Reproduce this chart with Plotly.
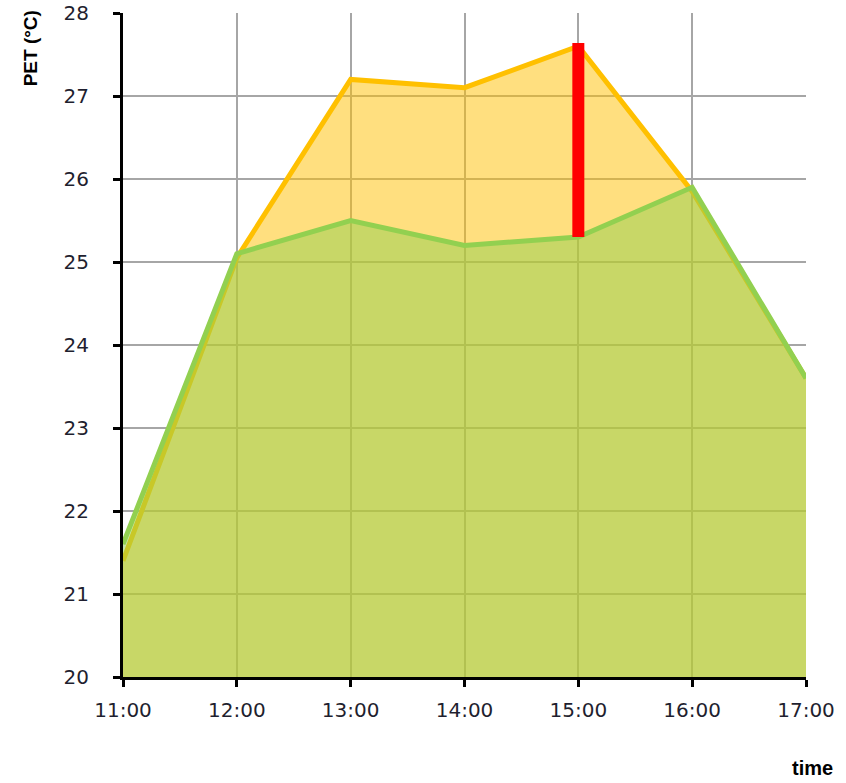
import plotly.graph_objects as go

hours = [11, 12, 13, 14, 15, 16, 17]
tick_labels = ["11:00", "12:00", "13:00", "14:00", "15:00", "16:00", "17:00"]
pet_orange = [21.4, 25.05, 27.2, 27.1, 27.6, 25.85, 23.6]
pet_green = [21.6, 25.1, 25.5, 25.2, 25.3, 25.9, 23.6]
bar_time = [15, 15]
bar_range = [25.3, 27.64]
y_ticks = [20, 21, 22, 23, 24, 25, 26, 27, 28]

fig = go.Figure()
fig.add_trace(go.Scatter(x=hours, y=pet_orange, mode="lines", fill="tozeroy",
                         fillcolor="rgba(255,192,0,0.5)",
                         line=dict(color="#FFC000", width=5), showlegend=False))
fig.add_trace(go.Scatter(x=hours, y=pet_green, mode="lines", fill="tozeroy",
                         fillcolor="rgba(146,208,80,0.5)",
                         line=dict(color="#92D050", width=5), showlegend=False))
fig.add_trace(go.Scatter(x=bar_time, y=bar_range, mode="lines",
                         line=dict(color="#FF0000", width=12), showlegend=False))

tick_font = "DejaVu Sans, Verdana, sans-serif"
title_font = "Liberation Sans, Arial, sans-serif"
fig.update_layout(
    width=846, height=783,
    margin=dict(l=123, r=40, t=13, b=106),
    paper_bgcolor="white", plot_bgcolor="white",
    font=dict(family=tick_font, size=20, color="#1f1f2f"),
    xaxis=dict(range=[11, 17], tickvals=hours, ticktext=tick_labels,
               showgrid=True, gridcolor="#A6A6A6", gridwidth=2,
               showline=True, linecolor="black", linewidth=3,
               ticks="outside", ticklen=7, tickwidth=3, tickcolor="black",
               ticklabelstandoff=6, automargin=False,
               ticklabeloverflow="allow",
               zeroline=False, fixedrange=True),
    yaxis=dict(range=[20, 28], tickvals=y_ticks,
               showgrid=True, gridcolor="#A6A6A6", gridwidth=2,
               showline=True, linecolor="black", linewidth=3,
               ticks="outside", ticklen=7, tickwidth=3, tickcolor="black",
               ticklabelstandoff=20, automargin=False,
               ticklabeloverflow="allow",
               zeroline=False, fixedrange=True),
    annotations=[
        dict(text="<b>PET (°C)</b>", xref="paper", yref="paper",
             x=-0.136, y=0.947, textangle=-90, showarrow=False,
             font=dict(size=19, color="black", family=title_font),
             xanchor="center", yanchor="middle"),
        dict(text="<b>time</b>", xref="paper", yref="paper",
             x=1.01, y=-0.137, showarrow=False,
             font=dict(size=20, color="black", family=title_font),
             xanchor="center", yanchor="middle"),
    ],
)
fig.write_html("out.html", config={"displayModeBar": False},
               post_script="document.body.style.margin='0';")
